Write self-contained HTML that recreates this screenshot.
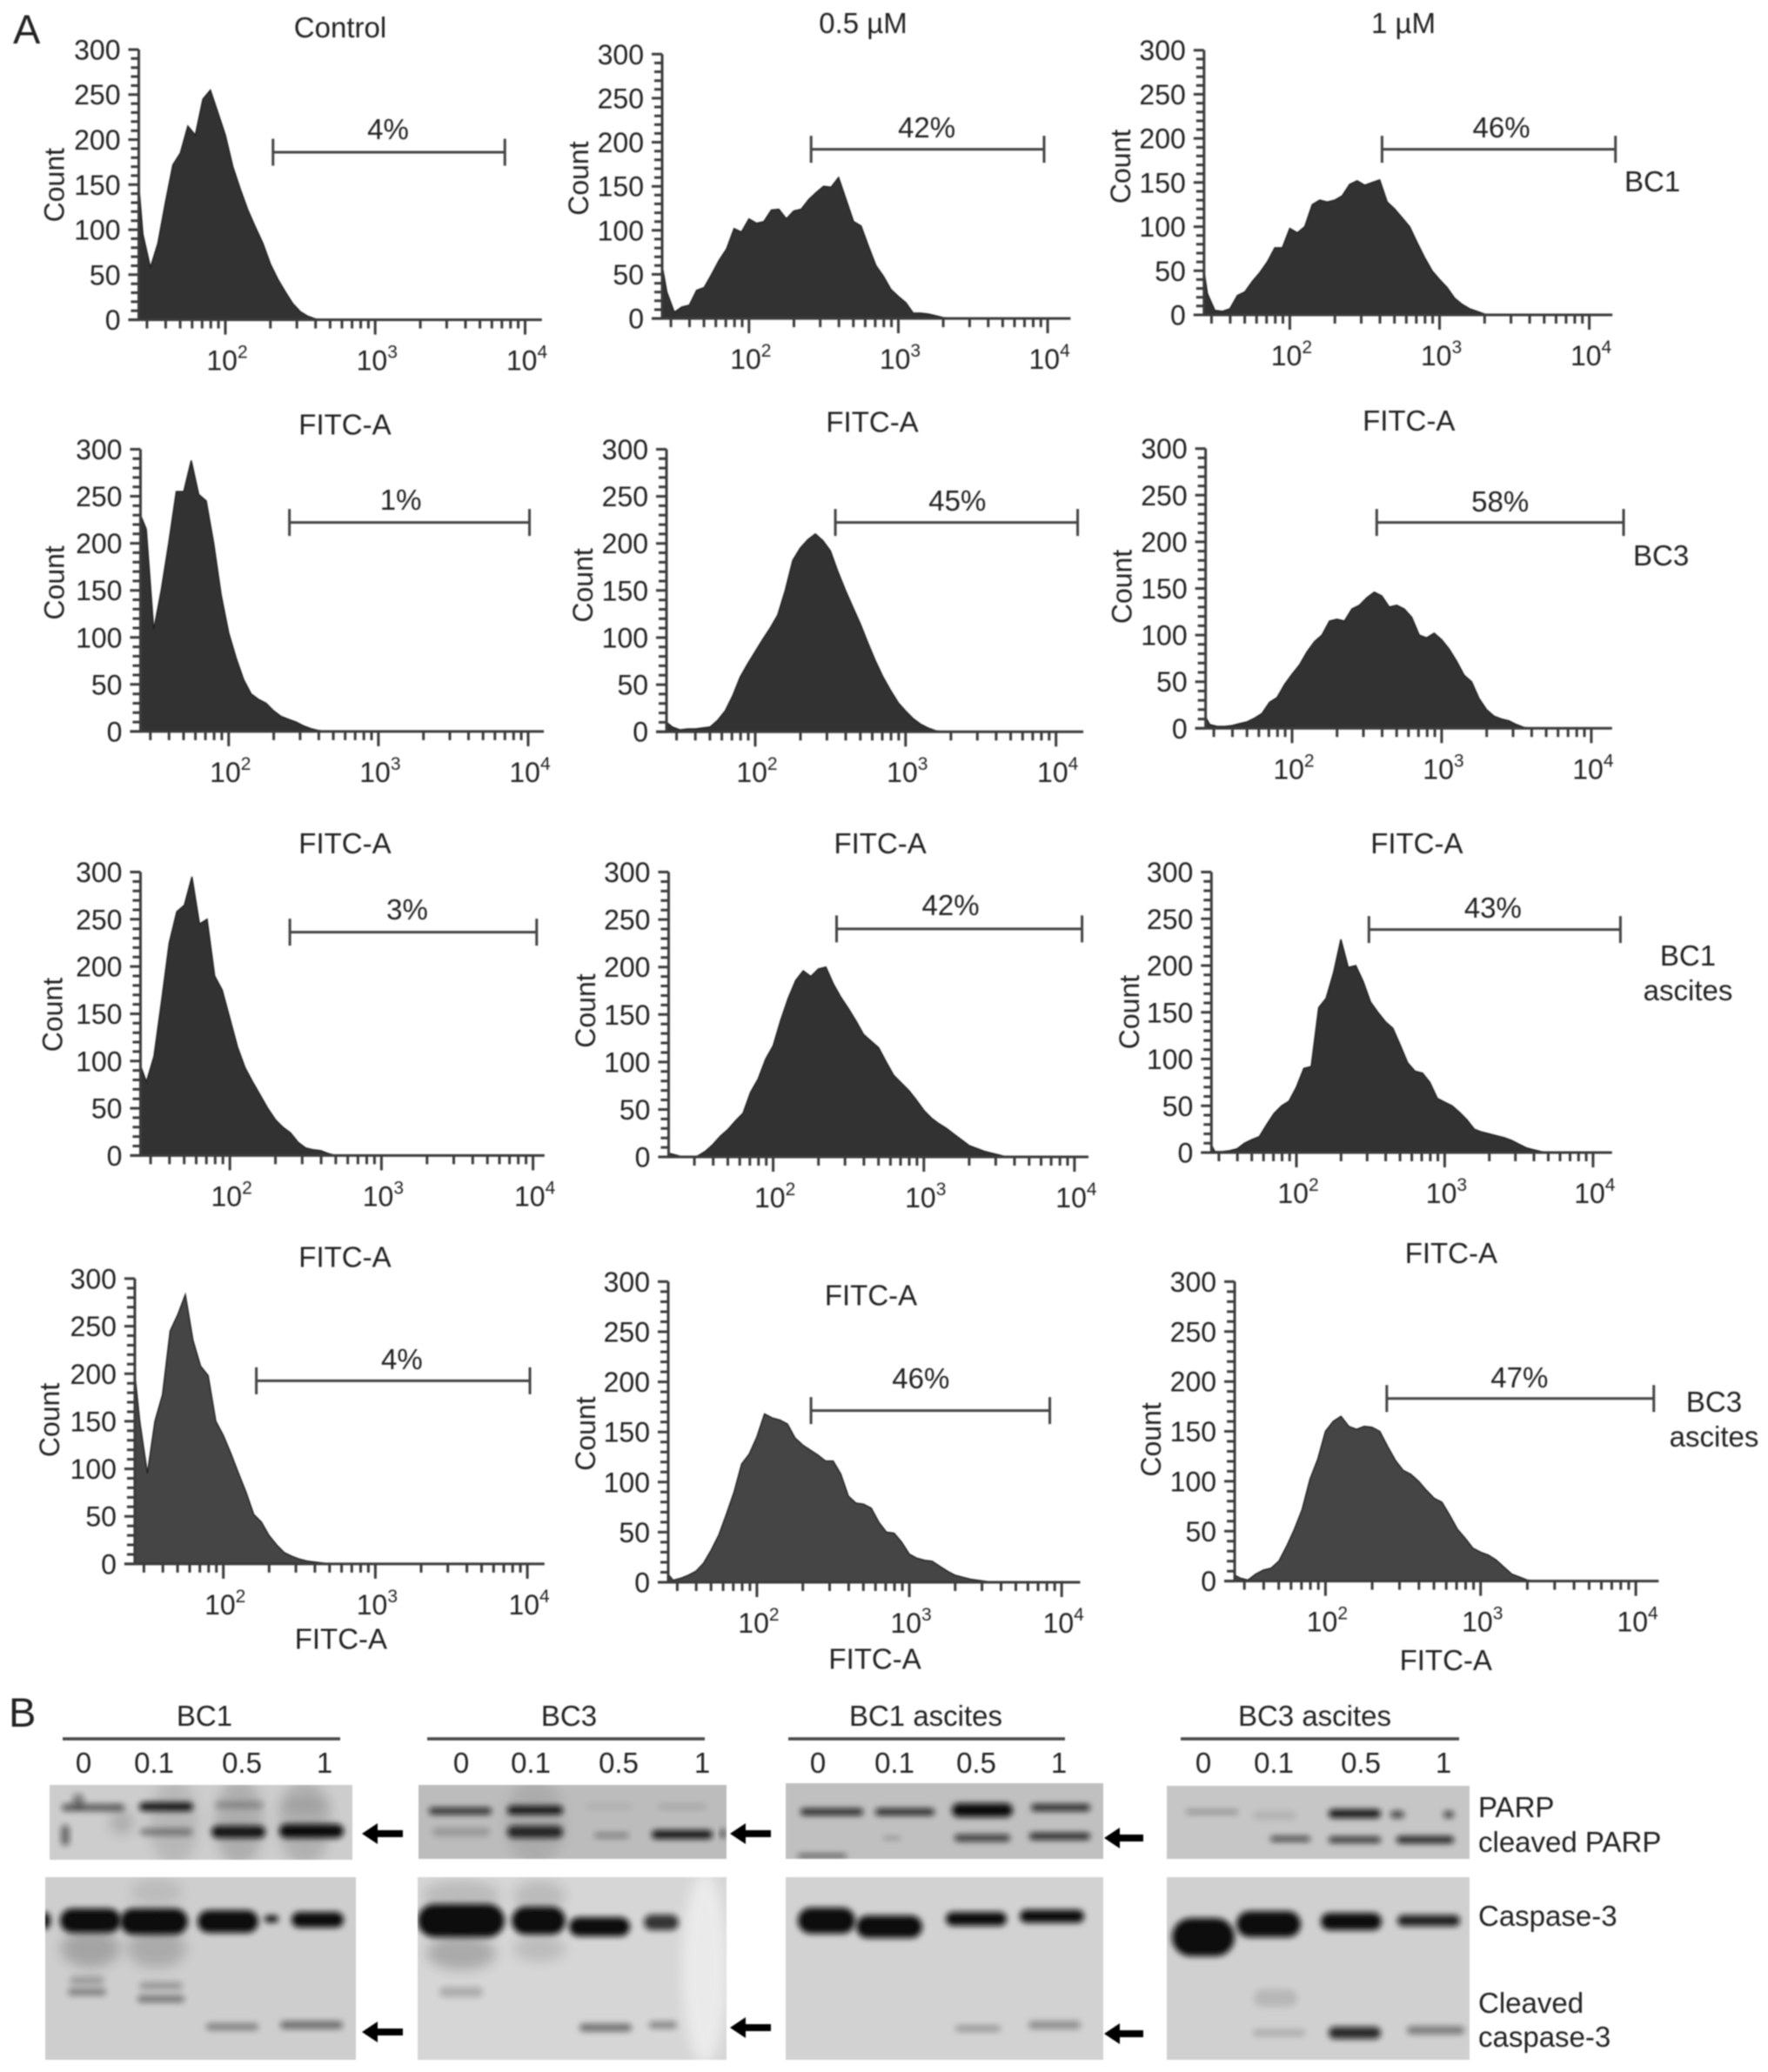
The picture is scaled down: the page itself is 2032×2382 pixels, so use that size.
<!DOCTYPE html>
<html lang="en">
<head>
<meta charset="utf-8">
<title>Flow cytometry histograms and western blots</title>
<style>
html,body{margin:0;padding:0;background:#fff;}
svg{display:block;}
text{font-family:"Liberation Sans",sans-serif;font-size:33px;fill:#222;}
.band{fill:#0d0d0d;filter:url(#b3);}
.soft{fill:#222;filter:url(#b6);}
</style>
</head>
<body>
<svg id="figure" xmlns="http://www.w3.org/2000/svg" width="2032" height="2382" viewBox="0 0 2032 2382">
<defs>
<filter id="b3" x="-50%" y="-150%" width="200%" height="400%"><feGaussianBlur stdDeviation="3.5"/></filter>
<filter id="b6" x="-50%" y="-100%" width="200%" height="300%"><feGaussianBlur stdDeviation="7"/></filter>
<filter id="soften"><feGaussianBlur stdDeviation="0.85"/></filter>
<clipPath id="c1"><rect x="57" y="2052" width="348" height="86"/></clipPath>
<clipPath id="c2"><rect x="481" y="2052" width="354" height="85"/></clipPath>
<clipPath id="c3"><rect x="903" y="2050" width="365" height="87"/></clipPath>
<clipPath id="c4"><rect x="1341" y="2053" width="348" height="84"/></clipPath>
<clipPath id="c5"><rect x="52" y="2158" width="357" height="210"/></clipPath>
<clipPath id="c6"><rect x="480" y="2158" width="355" height="210"/></clipPath>
<clipPath id="c7"><rect x="903" y="2158" width="365" height="210"/></clipPath>
<clipPath id="c8"><rect x="1341" y="2158" width="348" height="210"/></clipPath>
</defs>
<rect width="2032" height="2382" fill="#fff"/>
<g filter="url(#soften)">
<text x="15" y="50" style="font-size:47px">A</text>
<text x="10" y="1985" style="font-size:47px">B</text>
<g id="histograms"></g>
<text x="391" y="43" text-anchor="middle">Control</text>
<text x="992" y="38" text-anchor="middle">0.5 µM</text>
<text x="1613" y="38" text-anchor="middle">1 µM</text>
<text x="1867" y="220">BC1</text>
<text x="1877" y="650">BC3</text>
<text x="1940" y="1110" text-anchor="middle">BC1</text>
<text x="1940" y="1150" text-anchor="middle">ascites</text>
<text x="1970" y="1623" text-anchor="middle">BC3</text>
<text x="1970" y="1663" text-anchor="middle">ascites</text>

<g>
<text x="235" y="1984" text-anchor="middle">BC1</text>
<text x="654" y="1984" text-anchor="middle">BC3</text>
<text x="1064" y="1984" text-anchor="middle">BC1 ascites</text>
<text x="1511" y="1984" text-anchor="middle">BC3 ascites</text>
<path d="M72 1999H391M491 1999H810M906 1999H1224M1357 1999H1677" stroke="#444" stroke-width="3.5" fill="none"/>
<g text-anchor="middle">
<text x="96" y="2038">0</text><text x="177" y="2038">0.1</text><text x="278" y="2038">0.5</text><text x="373" y="2038">1</text>
<text x="530" y="2038">0</text><text x="610" y="2038">0.1</text><text x="711" y="2038">0.5</text><text x="807" y="2038">1</text>
<text x="940" y="2038">0</text><text x="1028" y="2038">0.1</text><text x="1122" y="2038">0.5</text><text x="1217" y="2038">1</text>
<text x="1383" y="2038">0</text><text x="1464" y="2038">0.1</text><text x="1564" y="2038">0.5</text><text x="1659" y="2038">1</text>
</g>

<g clip-path="url(#c1)">
<rect x="57" y="2052" width="348" height="86" fill="#cdcdcd"/>
<ellipse class="soft" cx="200" cy="2095" rx="28" ry="50" opacity=".12"/>
<ellipse class="soft" cx="275" cy="2095" rx="28" ry="50" opacity=".18"/>
<ellipse class="soft" cx="350" cy="2095" rx="30" ry="50" opacity=".16"/>
<ellipse class="band" cx="107" cy="2078" rx="36" ry="4" opacity=".6"/>
<ellipse class="band" cx="90" cy="2070" rx="7" ry="8" opacity=".4"/>
<ellipse class="band" cx="75" cy="2110" rx="5" ry="12" opacity=".5"/>
<ellipse class="band" cx="191" cy="2077" rx="31" ry="5" opacity=".95"/>
<ellipse class="band" cx="191" cy="2106" rx="30" ry="4" opacity=".4"/>
<ellipse class="band" cx="274" cy="2106" rx="31" ry="7" opacity=".95"/>
<ellipse class="band" cx="358" cy="2105" rx="37" ry="8" opacity="1"/>
<ellipse class="band" cx="275" cy="2075" rx="28" ry="4" opacity=".25"/>
<ellipse class="soft" cx="350" cy="2075" rx="30" ry="8" opacity=".12"/>
<ellipse class="soft" cx="140" cy="2095" rx="14" ry="14" opacity=".18"/>
</g>
<g clip-path="url(#c2)">
<rect x="481" y="2052" width="354" height="85" fill="#bcbcbc"/>
<ellipse class="soft" cx="615" cy="2095" rx="34" ry="50" opacity=".1"/>
<ellipse class="band" cx="529" cy="2082" rx="36" ry="4" opacity=".8"/>
<ellipse class="band" cx="615" cy="2081" rx="32" ry="5" opacity=".95"/>
<ellipse class="band" cx="530" cy="2106" rx="33" ry="5" opacity=".2"/>
<ellipse class="band" cx="615" cy="2106" rx="32" ry="7" opacity=".85"/>
<ellipse class="band" cx="703" cy="2110" rx="20" ry="3" opacity=".35"/>
<ellipse class="band" cx="784" cy="2109" rx="35" ry="5" opacity=".95"/>
<ellipse class="band" cx="700" cy="2077" rx="26" ry="3" opacity=".08"/>
<ellipse class="band" cx="784" cy="2077" rx="28" ry="3" opacity=".12"/>
<ellipse class="band" cx="831" cy="2108" rx="3" ry="5" opacity=".7"/>
</g>
<g clip-path="url(#c3)">
<rect x="903" y="2050" width="365" height="87" fill="#c0c0c0"/>
<ellipse class="band" cx="956" cy="2083" rx="36" ry="4" opacity=".85"/>
<ellipse class="band" cx="1040" cy="2083" rx="34" ry="4" opacity=".85"/>
<ellipse class="band" cx="1129" cy="2081" rx="35" ry="8" opacity="1"/>
<ellipse class="band" cx="1219" cy="2078" rx="34" ry="4" opacity=".85"/>
<ellipse class="band" cx="1025" cy="2113" rx="10" ry="2" opacity=".25"/>
<ellipse class="band" cx="1129" cy="2113" rx="32" ry="4" opacity=".75"/>
<ellipse class="band" cx="1218" cy="2111" rx="35" ry="4" opacity=".85"/>
<ellipse class="band" cx="945" cy="2134" rx="28" ry="3" opacity=".5"/>
</g>
<g clip-path="url(#c4)">
<rect x="1341" y="2053" width="348" height="84" fill="#c6c6c6"/>
<ellipse class="band" cx="1393" cy="2083" rx="30" ry="2.5" opacity=".3"/>
<ellipse class="band" cx="1465" cy="2087" rx="25" ry="5" opacity=".1"/>
<ellipse class="band" cx="1483" cy="2114" rx="23" ry="3" opacity=".7"/>
<ellipse class="band" cx="1557" cy="2085" rx="30" ry="5" opacity=".95"/>
<ellipse class="band" cx="1557" cy="2115" rx="30" ry="3.5" opacity=".8"/>
<ellipse class="band" cx="1606" cy="2086" rx="8" ry="4" opacity=".7"/>
<ellipse class="band" cx="1665" cy="2086" rx="6" ry="4" opacity=".7"/>
<ellipse class="band" cx="1638" cy="2115" rx="33" ry="4" opacity=".9"/>
</g>

<g clip-path="url(#c5)">
<rect x="52" y="2158" width="357" height="210" fill="#cecece"/>
<ellipse class="soft" cx="104" cy="2240" rx="34" ry="22" opacity=".24"/>
<ellipse class="soft" cx="180" cy="2240" rx="34" ry="22" opacity=".2"/>
<ellipse class="soft" cx="180" cy="2175" rx="30" ry="16" opacity=".1"/>
<ellipse class="band" cx="50" cy="2208" rx="8" ry="10"/>
<ellipse class="band" cx="104" cy="2208" rx="35" ry="14"/>
<ellipse class="band" cx="177" cy="2209" rx="39" ry="15"/>
<ellipse class="band" cx="262" cy="2209" rx="35" ry="13"/>
<ellipse class="band" cx="312" cy="2206" rx="8" ry="4"/>
<ellipse class="band" cx="365" cy="2207" rx="30" ry="9"/>
<ellipse class="band" cx="100" cy="2290" rx="22" ry="4" opacity=".4"/>
<ellipse class="band" cx="100" cy="2277" rx="20" ry="5" opacity=".25"/>
<ellipse class="band" cx="185" cy="2298" rx="27" ry="4" opacity=".45"/>
<ellipse class="band" cx="185" cy="2283" rx="25" ry="5" opacity=".25"/>
<ellipse class="band" cx="267" cy="2330" rx="30" ry="4" opacity=".4"/>
<ellipse class="band" cx="358" cy="2328" rx="36" ry="4.5" opacity=".5"/>
</g>
<g clip-path="url(#c6)">
<rect x="480" y="2158" width="355" height="210" fill="#d6d6d6"/>
<ellipse class="soft" cx="810" cy="2263" rx="26" ry="110" fill="#fff" style="fill:#fff" opacity=".5"/>
<ellipse class="soft" cx="530" cy="2180" rx="45" ry="18" opacity=".15"/>
<ellipse class="soft" cx="620" cy="2180" rx="30" ry="18" opacity=".15"/>
<ellipse class="soft" cx="530" cy="2245" rx="40" ry="20" opacity=".24"/>
<ellipse class="soft" cx="620" cy="2240" rx="30" ry="15" opacity=".14"/>
<ellipse class="band" cx="530" cy="2208" rx="50" ry="19"/>
<ellipse class="band" cx="619" cy="2208" rx="31" ry="16"/>
<ellipse class="band" cx="689" cy="2215" rx="35" ry="11"/>
<ellipse class="band" cx="760" cy="2210" rx="20" ry="9" opacity=".8"/>
<ellipse class="band" cx="530" cy="2290" rx="25" ry="6" opacity=".2"/>
<ellipse class="band" cx="696" cy="2331" rx="30" ry="4.5" opacity=".5"/>
<ellipse class="band" cx="762" cy="2328" rx="16" ry="4" opacity=".4"/>
</g>
<g clip-path="url(#c7)">
<rect x="903" y="2158" width="365" height="210" fill="#d2d2d2"/>
<ellipse class="band" cx="950" cy="2208" rx="33" ry="15"/>
<ellipse class="band" cx="1022" cy="2215" rx="38" ry="13"/>
<ellipse class="band" cx="1122" cy="2206" rx="35" ry="8"/>
<ellipse class="band" cx="1209" cy="2203" rx="37" ry="7.5"/>
<ellipse class="band" cx="1124" cy="2332" rx="26" ry="3.5" opacity=".3"/>
<ellipse class="band" cx="1212" cy="2328" rx="30" ry="4.5" opacity=".35"/>
</g>
<g clip-path="url(#c8)">
<rect x="1341" y="2158" width="348" height="210" fill="#d0d0d0"/>
<ellipse class="band" cx="1383" cy="2227" rx="36" ry="22"/>
<ellipse class="band" cx="1458" cy="2212" rx="37" ry="15"/>
<ellipse class="band" cx="1553" cy="2209" rx="35" ry="10"/>
<ellipse class="band" cx="1642" cy="2208" rx="36" ry="6.5" opacity=".9"/>
<ellipse class="band" cx="1466" cy="2297" rx="25" ry="10" opacity=".12"/>
<ellipse class="band" cx="1557" cy="2337" rx="30" ry="7" opacity=".85"/>
<ellipse class="band" cx="1650" cy="2334" rx="33" ry="4.5" opacity=".45"/>
<ellipse class="band" cx="1470" cy="2337" rx="30" ry="3.5" opacity=".2"/>
</g>

<g fill="#000" stroke="none">
<path d="M416 2108l18-12v8h29v8h-29v8z"/>
<path d="M416 2336l18-12v8h29v8h-29v8z"/>
<path d="M839 2108l18-12v8h29v8h-29v8z"/>
<path d="M839 2331l18-12v8h29v8h-29v8z"/>
<path d="M1269 2113l18-12v8h27v8h-27v8z"/>
<path d="M1269 2338l18-12v8h27v8h-27v8z"/>
</g>
<text x="1699" y="2089">PARP</text>
<text x="1699" y="2129">cleaved PARP</text>
<text x="1699" y="2214">Caspase-3</text>
<text x="1699" y="2314">Cleaved</text>
<text x="1699" y="2353">caspase-3</text>
</g>
</g>
</svg>
<script>
// Shared x-axis bins, log10 of FITC-A intensity
const logBins = [1.40,1.45,1.50,1.55,1.60,1.65,1.70,1.75,1.80,1.85,1.90,1.95,2.00,2.05,2.10,2.15,2.20,2.25,2.30,2.35,2.40,2.45,2.50,2.55,2.60,2.65,2.70,2.75,2.80,2.85,2.90,2.95,3.00,3.05,3.10,3.15,3.20,3.25,3.30,3.35,3.40,3.45,3.50,3.55,3.60,3.65,3.70];

// Cell counts per bin, one series per histogram
const bc1Control = [150,95,58,85,130,172,185,215,205,245,255,230,205,170,145,122,103,85,62,45,31,18,9,4,1,0];
const bc1Half = [60,30,7,13,15,32,35,50,66,79,102,98,113,108,110,123,124,113,122,124,135,143,150,149,160,135,110,105,82,60,48,33,25,18,6,6,5,3,1,0];
const bc1One = [50,24,5,4,7,22,26,38,48,60,76,76,98,93,100,125,130,128,130,135,148,152,147,150,153,128,120,110,100,82,65,50,40,31,19,12,7,4,1,0];
const bc3Control = [230,215,108,150,200,255,255,288,252,245,200,145,105,78,55,40,34,30,22,16,13,10,6,3,1,0];
const bc3Half = [10,5,2,3,3,4,5,12,22,38,58,72,85,98,110,124,150,182,195,204,210,203,192,170,150,132,114,94,75,58,44,31,22,14,8,4,1,0];
const bc3One = [12,4,2,2,3,5,7,11,16,28,33,47,58,68,82,93,100,115,117,115,128,132,140,146,142,130,132,128,119,100,97,102,95,85,72,57,50,32,20,13,10,8,4,1,0];
const bc1AscControl = [95,78,105,164,225,258,265,295,245,250,190,175,145,115,93,78,64,50,38,30,24,14,8,6,5,2,0];
const bc1AscHalf = [0,0,1,6,13,22,29,38,46,68,82,103,117,144,167,186,196,190,198,200,182,168,156,143,129,122,115,100,86,78,70,60,49,41,35,30,24,18,12,9,6,4,2,0];
const bc1AscOne = [8,1,1,2,4,10,14,17,30,42,50,55,70,90,92,155,165,192,228,198,200,183,161,150,140,133,115,96,87,85,75,58,54,50,43,35,25,22,20,18,16,13,9,5,3,1,0];
const bc3AscControl = [200,150,95,150,178,245,262,283,235,208,198,150,135,116,95,75,52,44,30,20,12,8,5,3,2,1,0];
const bc3AscHalf = [8,2,4,7,11,19,32,47,68,90,118,128,145,168,164,162,158,144,137,132,127,121,121,108,86,79,78,74,60,50,49,40,28,24,22,21,16,11,7,5,3,2,1,0];
const bc3AscOne = [6,3,1,7,11,13,20,35,52,72,102,122,150,160,165,155,152,155,154,150,135,121,111,107,100,91,83,79,66,52,43,33,29,26,21,14,7,4,1,0];

// Debris spike height at the y axis for each histogram
const axisSpikes = [150,66,61,240,37,24,100,4,23,240,20,14];

// Gate limits, log10 FITC-A, and printed percentages
const gateLows = [2.318,2.416,2.616,2.406,2.533,2.566,2.396,2.421,2.489,2.217,2.355,2.395];
const gateHighs = [3.865,3.976,4.175,4.009,4.144,4.216,4.024,4.05,4.185,4.017,3.922,4.116];
const gatePercents = ['4%','42%','46%','1%','45%','58%','3%','42%','43%','4%','46%','47%'];

// Axis tick labels
const countTicks = [0,50,100,150,200,250,300];
const decadeExponents = [2,3,4];

const seriesList = [bc1Control,bc1Half,bc1One,bc3Control,bc3Half,bc3One,bc1AscControl,bc1AscHalf,bc1AscOne,bc3AscControl,bc3AscHalf,bc3AscOne];
const seriesNames = ['bc1-control','bc1-0-5','bc1-1','bc3-control','bc3-0-5','bc3-1','bc1-ascites-control','bc1-ascites-0-5','bc1-ascites-1','bc3-ascites-control','bc3-ascites-0-5','bc3-ascites-1'];

// Layout of each plot frame
const S = 1.519;
const frames = [
 {ax:105,y0:242,y3:37.5,d2:170.5,dec:113.4,end:410,gy:115.2,pb:160,pdx:-1,cx:41.3,cy:140,t:null,fill:'#333'},
 {ax:501,y0:241,y3:41,d2:566.7,dec:113,end:810,gy:113,pb:158,pdx:-1,cx:437.8,cy:135,t:null,fill:'#333'},
 {ax:911,y0:238.3,y3:38,d2:975.9,dec:113.3,end:1220,gy:113,pb:158,pdx:3,cx:848,cy:126,t:null,fill:'#333'},
 {ax:106.3,y0:553.6,y3:340,d2:173,dec:113.3,end:411.5,gy:395.4,pb:586,pdx:-10,cx:41,cy:441,t:[261,321],fill:'#333'},
 {ax:504.3,y0:553.8,y3:340,d2:571.4,dec:113.8,end:819.7,gy:395.4,pb:587,pdx:1,cx:441,cy:443,t:[660,319],fill:'#333'},
 {ax:912.2,y0:551.2,y3:339.5,d2:977.6,dec:113.2,end:1219.7,gy:395.4,pb:588,pdx:0,cx:849,cy:444,t:[1066,318],fill:'#333'},
 {ax:106.3,y0:874.5,y3:660,d2:173.9,dec:114.7,end:412,gy:705.5,pb:1057,pdx:-7,cx:40,cy:768,t:[261,638],fill:'#333'},
 {ax:505.9,y0:875.6,y3:660,d2:585,dec:114,end:823.6,gy:703,pb:1052,pdx:-10,cx:443,cy:765,t:[666,638],fill:'#333'},
 {ax:916.6,y0:872.3,y3:660,d2:980.9,dec:112.2,end:1219.7,gy:703.5,pb:1055,pdx:-2,cx:854.5,cy:766,t:[1072,638],fill:'#333'},
 {ax:102,y0:1183.6,y3:967.7,d2:169,dec:115,end:412,gy:1045,pb:1574,pdx:10,cx:37.5,cy:1074.7,t:[261,951],fill:'#444',b:[258,1240]},
 {ax:505.6,y0:1197.5,y3:970,d2:572.7,dec:115.3,end:817.3,gy:1067.6,pb:1596,pdx:-11,cx:443,cy:1085,t:[659,980],fill:'#444',b:[662,1255]},
 {ax:934.2,y0:1196.6,y3:970,d2:1002.9,dec:117.4,end:1255,gy:1058.4,pb:1595,pdx:-1,cx:871,cy:1089.5,t:[1098,948],fill:'#444',b:[1094,1256]}
];

const NS = 'http://www.w3.org/2000/svg';
const root = document.getElementById('histograms');

function make(tag, parent, attrs, content) {
  const el = document.createElementNS(NS, tag);
  for (const k in attrs) el.setAttribute(k, attrs[k]);
  if (content !== undefined) el.textContent = content;
  parent.appendChild(el);
  return el;
}

function drawPanel(i) {
  const f = frames[i];
  const counts = seriesList[i];
  const xScale = v => (f.d2 + (v - 2) * f.dec) * S;
  const yScale = c => (f.y0 - c * (f.y0 - f.y3) / 300) * S;
  const axisX = f.ax * S;
  const baseY = f.y0 * S;

  const g = make('g', root, {});
  
  

  // filled histogram
  let d = 'M' + axisX + ' ' + baseY + 'L' + axisX + ' ' + yScale(axisSpikes[i]);
  counts.forEach((c, k) => {
    d += 'L' + Math.max(axisX, xScale(logBins[k])).toFixed(1) + ' ' + yScale(c).toFixed(1);
  });
  d += 'L' + xScale(logBins[counts.length - 1]).toFixed(1) + ' ' + baseY + 'Z';
  const area = make('path', g, {d: d, fill: f.fill, stroke: '#222', 'stroke-width': 1.5});
  
  

  // y axis with ladder ticks
  let yd = 'M' + axisX + ' ' + yScale(300) + 'V' + baseY;
  for (let c = 0; c <= 300; c += 10) {
    const len = c % 50 === 0 ? 12 : 9;
    yd += 'M' + (axisX - len) + ' ' + yScale(c).toFixed(1) + 'H' + axisX;
  }
  const yAxis = make('path', g, {d: yd, stroke: '#3a3a3a', 'stroke-width': 3, fill: 'none'});
  
  

  // x axis with log ticks
  let xd = 'M' + (axisX - 12) + ' ' + baseY + 'H' + f.end * S;
  const leftLimit = axisX + 6;
  [1, 2, 3].forEach(e => {
    for (let m = 2; m <= 9; m++) {
      const tx = xScale(e + Math.log10(m));
      if (tx > leftLimit && tx < f.end * S) xd += 'M' + tx.toFixed(1) + ' ' + baseY + 'v10';
    }
  });
  decadeExponents.forEach(e => {
    xd += 'M' + xScale(e).toFixed(1) + ' ' + baseY + 'v17';
  });
  const xAxis = make('path', g, {d: xd, stroke: '#3a3a3a', 'stroke-width': 3, fill: 'none'});
  
  

  // y tick labels
  countTicks.forEach(c => {
    const t = make('text', g, {x: axisX - 21, y: yScale(c) + 11.5, 'text-anchor': 'end', style: 'font-size:32px'}, String(c));
    
    
  });

  // x tick labels
  decadeExponents.forEach(e => {
    const t = make('text', g, {x: xScale(e) + 2, y: baseY + 58, 'text-anchor': 'middle', style: 'font-size:32px'});
    
    
    make('tspan', t, {}, '10');
    make('tspan', t, {dy: -14, style: 'font-size:21px'}, String(e));
  });

  // y-axis title
  const cx = f.cx * S + 11, cy = f.cy * S;
  const yTitle = make('text', g, {x: cx, y: cy, 'text-anchor': 'middle', style: 'font-size:32px', transform: 'rotate(-90 ' + cx + ' ' + cy + ')'}, 'Count');
  
  

  // plot titles above and x titles below
  if (f.t) {
    const title = make('text', g, {x: f.t[0] * S, y: f.t[1] * S + 12, 'text-anchor': 'middle'}, 'FITC-A');
    
    
  }
  if (f.b) {
    const bottom = make('text', g, {x: f.b[0] * S, y: f.b[1] * S + 12, 'text-anchor': 'middle'}, 'FITC-A');
    
    
  }

  // gate marker
  const gx1 = xScale(gateLows[i]), gx2 = xScale(gateHighs[i]), gy = f.gy * S;
  const gd = 'M' + gx1 + ' ' + gy + 'H' + gx2 + 'M' + gx1 + ' ' + (gy - 15.5) + 'v31M' + gx2 + ' ' + (gy - 15.5) + 'v31';
  const gate = make('path', g, {d: gd, stroke: '#444', 'stroke-width': 3, fill: 'none'});
  
  
  const pct = make('text', g, {x: (gx1 + gx2) / 2 + f.pdx, y: f.pb, 'text-anchor': 'middle'}, gatePercents[i]);
  
  
}

frames.forEach((f, i) => drawPanel(i));

// Redraw each blot band as a soft rounded bar
document.querySelectorAll('ellipse.band').forEach(e => {
  const cx = +e.getAttribute('cx'), cy = +e.getAttribute('cy');
  const rx = +e.getAttribute('rx'), ry = +e.getAttribute('ry');
  const r = document.createElementNS(NS, 'rect');
  r.setAttribute('class', 'band');
  r.setAttribute('x', cx - rx);
  r.setAttribute('y', cy - ry);
  r.setAttribute('width', 2 * rx);
  r.setAttribute('height', 2 * ry);
  r.setAttribute('rx', Math.min(rx, ry));
  r.setAttribute('opacity', e.getAttribute('opacity') || 1);
  
  
  e.replaceWith(r);
});
</script>
</body>
</html>
